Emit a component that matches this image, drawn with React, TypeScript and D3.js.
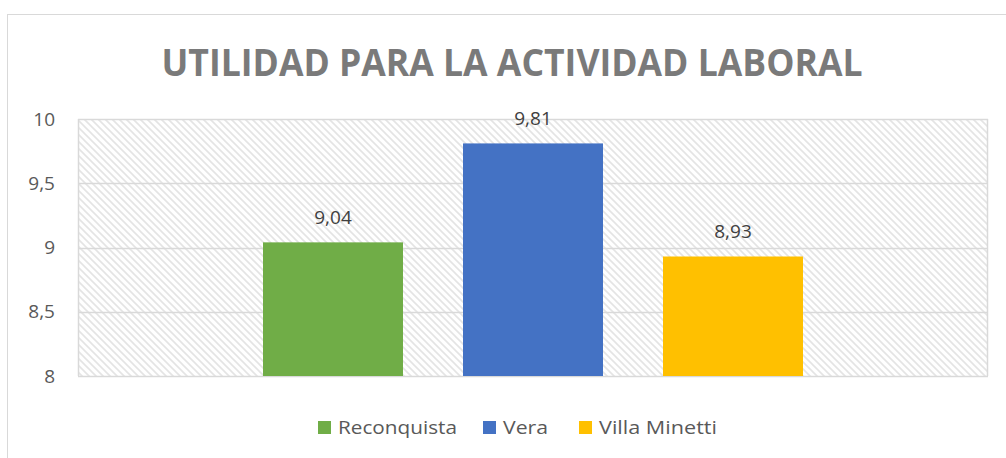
import React, { useEffect, useRef } from "react";
import * as d3 from "d3";

const series = ["Reconquista", "Vera", "Villa Minetti"];
const values = [9.04, 9.81, 8.93];
const labels = ["9,04", "9,81", "8,93"];
const colors = ["#70AD47", "#4472C4", "#FFC000"];
const yTicks = [8, 8.5, 9, 9.5, 10];
const yTickLabels = ["8", "8,5", "9", "9,5", "10"];
const title = "UTILIDAD PARA LA ACTIVIDAD LABORAL";

const W = 1006, H = 458;
const plot = { left: 78, right: 988, top: 119, bottom: 376 };
const FONT = "'Open Sans', 'Liberation Sans', sans-serif";

export default function App() {
  const ref = useRef<SVGSVGElement>(null);
  useEffect(() => {
    const svg = d3.select(ref.current);
    svg.selectAll("*").remove();

    const defs = svg.append("defs");
    const pat = defs.append("pattern").attr("id", "hatch").attr("patternUnits", "userSpaceOnUse")
      .attr("width", 7).attr("height", 7);
    pat.append("rect").attr("width", 7).attr("height", 7).attr("fill", "#fff");
    pat.append("path").attr("d", "M-1,-1 L8,8 M-1,6 L1,8 M6,-1 L8,1")
      .attr("stroke", "#e4e4e4").attr("stroke-width", 1.6);

    // outer border
    svg.append("rect").attr("x", 7.5).attr("y", 14.5).attr("width", 1100).attr("height", 600)
      .attr("fill", "#fff").attr("stroke", "#d9d9d9");

    const y = d3.scaleLinear().domain([8, 10]).range([plot.bottom, plot.top]);
    const cat = d3.scaleBand().domain(["g"]).range([plot.left, plot.right]);
    const groupW = cat.bandwidth() * (540 / 910);
    const gx0 = cat("g")! + (cat.bandwidth() - groupW) / 2;
    const x = d3.scaleBand().domain(series).range([gx0, gx0 + groupW]).paddingInner(0.3).paddingOuter(0);

    svg.append("rect").attr("x", plot.left).attr("y", plot.top)
      .attr("width", plot.right - plot.left).attr("height", plot.bottom - plot.top)
      .attr("fill", "url(#hatch)");

    svg.append("g").selectAll("line").data(yTicks).join("line")
      .attr("x1", plot.left).attr("x2", plot.right)
      .attr("y1", d => Math.round(y(d)) + 0.5).attr("y2", d => Math.round(y(d)) + 0.5)
      .attr("stroke", "#d9d9d9").attr("stroke-width", 1.5);
    svg.append("line").attr("x1", plot.left + 0.5).attr("x2", plot.left + 0.5)
      .attr("y1", plot.top).attr("y2", plot.bottom).attr("stroke", "#d9d9d9").attr("stroke-width", 1.5);
    svg.append("line").attr("x1", plot.right - 0.5).attr("x2", plot.right - 0.5)
      .attr("y1", plot.top).attr("y2", plot.bottom).attr("stroke", "#d9d9d9").attr("stroke-width", 1.5);

    svg.append("g").selectAll("text").data(yTicks).join("text")
      .attr("x", 55).attr("y", d => y(d)).attr("dy", "0.35em").attr("text-anchor", "end")
      .attr("font-family", FONT).attr("font-size", 19).attr("fill", "#595959")
      .text((d, i) => yTickLabels[i]);

    svg.append("g").selectAll("text").data(series).join("text")
      .attr("x", d => x(d)! + x.bandwidth() / 2).attr("y", (d, i) => y(values[i]) - 18)
      .attr("text-anchor", "middle").attr("font-family", FONT).attr("font-size", 19).attr("fill", "#404040")
      .text((d, i) => labels[i]);

    svg.append("g").selectAll("rect").data(series).join("rect")
      .attr("x", d => x(d)!).attr("width", x.bandwidth())
      .attr("y", (d, i) => y(values[i])).attr("height", (d, i) => plot.bottom - y(values[i]))
      .attr("fill", (d, i) => colors[i]);

    svg.append("text").attr("x", 512).attr("y", 76).attr("text-anchor", "middle")
      .attr("font-family", FONT).attr("font-weight", "bold").attr("font-size", 38).attr("fill", "#7a7a7a")
      .attr("textLength", 701).attr("lengthAdjust", "spacingAndGlyphs")
      .text(title);

    const legX = [318, 483, 579];
    const legW = [119, 45, 118];
    const lg = svg.append("g");
    series.forEach((s, i) => {
      lg.append("rect").attr("x", legX[i]).attr("y", 421).attr("width", 13).attr("height", 13).attr("fill", colors[i]);
      lg.append("text").attr("x", legX[i] + 20).attr("y", 434).attr("font-family", FONT)
        .attr("font-size", 19).attr("fill", "#595959")
        .attr("textLength", legW[i]).attr("lengthAdjust", "spacingAndGlyphs").text(s);
    });
  }, []);
  return (
    <svg ref={ref} width={W} height={H} style={{ position: "absolute", left: 0, top: 0 }} />
  );
}
